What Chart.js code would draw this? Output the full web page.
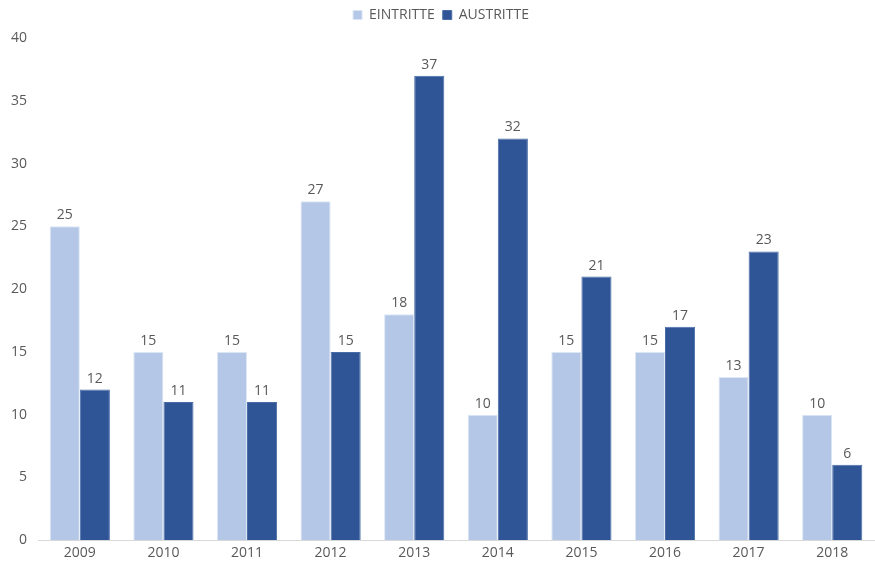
<!DOCTYPE html>
<html>
<head>
<meta charset="utf-8">
<script src="https://cdn.jsdelivr.net/npm/chart.js@4"></script>
<style>
  html, body { margin: 0; padding: 0; background: #fff; }
  #wrap { width: 875px; height: 562px; }
</style>
</head>
<body>
<div id="wrap"><canvas id="chart"></canvas></div>
<script>
const years = ["2009","2010","2011","2012","2013","2014","2015","2016","2017","2018"];
const eintritte = [25, 15, 15, 27, 18, 10, 15, 15, 13, 10];
const austritte = [12, 11, 11, 15, 37, 32, 21, 17, 23, 6];
const yTicks = [0, 5, 10, 15, 20, 25, 30, 35, 40];

const textColor = "#595959";
const fontFamily = "'Open Sans'";

// draws the number above each bar
const valueLabels = {
  id: "valueLabels",
  afterDatasetsDraw(chart) {
    const ctx = chart.ctx;
    ctx.save();
    ctx.font = "14px " + fontFamily;
    ctx.fillStyle = textColor;
    ctx.textAlign = "center";
    ctx.textBaseline = "bottom";
    chart.data.datasets.forEach((ds, i) => {
      chart.getDatasetMeta(i).data.forEach((bar, j) => {
        ctx.fillText(ds.data[j], bar.x, bar.y - 4);
      });
    });
    ctx.restore();
  }
};

// a bit more room between legend and plot
const legendGap = {
  id: "legendGap",
  beforeLayout(chart) {
    const lg = chart.legend;
    if (lg && !lg._gapPatched) {
      const fit = lg.fit.bind(lg);
      lg.fit = function () { fit(); this.height += 6; };
      lg._gapPatched = true;
    }
  }
};

new Chart(document.getElementById("chart"), {
  type: "bar",
  data: {
    labels: years,
    datasets: [
      { label: "EINTRITTE", data: eintritte, backgroundColor: "#B4C7E7", borderColor: "#DCE6F4", borderWidth: 1 },
      { label: "AUSTRITTE", data: austritte, backgroundColor: "#2F5597", borderColor: "#4A6DA8", borderWidth: 1 }
    ]
  },
  options: {
    responsive: true,
    maintainAspectRatio: false,
    animation: false,
    layout: { padding: { left: 8, right: 1, top: 0, bottom: 5 } },
    datasets: { bar: { categoryPercentage: 0.72, barPercentage: 1.0 } },
    plugins: {
      legend: {
        position: "top",
        labels: {
          boxWidth: 9, boxHeight: 9, padding: 8,
          color: textColor,
          font: { family: fontFamily, size: 14 }
        }
      },
      tooltip: { enabled: false }
    },
    scales: {
      x: {
        grid: { display: false },
        border: { display: true, color: "#D9D9D9" },
        ticks: { color: textColor, font: { family: fontFamily, size: 14 }, padding: -4 }
      },
      y: {
        min: 0, max: 40,
        afterBuildTicks: axis => { axis.ticks = yTicks.map(v => ({ value: v })); },
        grid: { display: false },
        border: { display: false },
        ticks: { color: textColor, font: { family: fontFamily, size: 14 }, padding: 3 }
      }
    }
  },
  plugins: [valueLabels, legendGap]
});
</script>
</body>
</html>
